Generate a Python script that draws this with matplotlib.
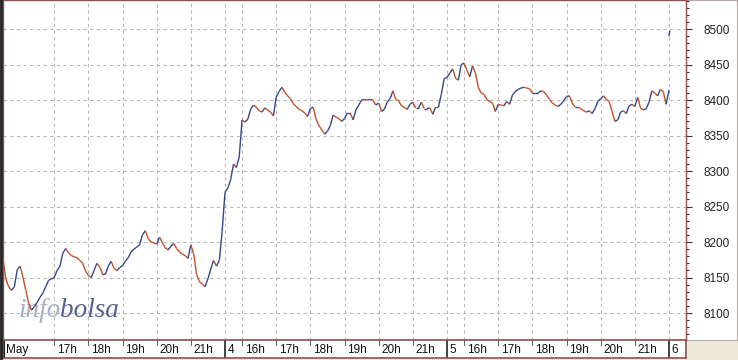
import numpy as np
import matplotlib.pyplot as plt
from matplotlib.collections import LineCollection
from matplotlib.patches import Rectangle
from matplotlib.lines import Line2D

# 5-minute closes, session 15:30-22:00 (78 bars per day)
day3 = [8176, 8148, 8137, 8132, 8137, 8161, 8166, 8151, 8132, 8114,
        8104, 8109, 8115, 8122, 8128, 8137, 8146, 8148, 8150, 8160,
        8166, 8184, 8191, 8185, 8181, 8179, 8178, 8174, 8170, 8159,
        8153, 8150, 8160, 8170, 8165, 8154, 8155, 8166, 8173, 8163,
        8160, 8164, 8167, 8173, 8178, 8186, 8190, 8193, 8196, 8210,
        8216, 8205, 8200, 8199, 8197, 8207, 8199, 8192, 8189, 8194,
        8198, 8191, 8186, 8183, 8181, 8177, 8196, 8183, 8155, 8144,
        8141, 8137, 8148, 8162, 8174, 8166, 8174, 8215]
day4 = [8270, 8276, 8288, 8310, 8305, 8320, 8372, 8369, 8373, 8387,
        8393, 8390, 8385, 8383, 8389, 8386, 8383, 8378, 8404, 8412,
        8418, 8411, 8406, 8402, 8395, 8391, 8387, 8385, 8382, 8377,
        8388, 8390, 8373, 8364, 8358, 8352, 8356, 8364, 8379, 8376,
        8374, 8370, 8374, 8382, 8382, 8372, 8386, 8393, 8400, 8401,
        8400, 8401, 8400, 8393, 8396, 8384, 8387, 8397, 8402, 8413,
        8401, 8399, 8392, 8390, 8387, 8394, 8397, 8389, 8389, 8397,
        8388, 8388, 8389, 8380, 8390, 8390, 8408, 8430]
day5 = [8432, 8438, 8444, 8431, 8428, 8450, 8452, 8442, 8433, 8448,
        8438, 8418, 8410, 8408, 8401, 8398, 8396, 8384, 8394, 8393,
        8392, 8398, 8394, 8407, 8412, 8415, 8417, 8418, 8417, 8416,
        8410, 8410, 8410, 8413, 8412, 8407, 8401, 8396, 8393, 8391,
        8394, 8399, 8405, 8406, 8396, 8390, 8390, 8388, 8385, 8383,
        8385, 8381, 8388, 8398, 8402, 8406, 8401, 8398, 8384, 8370,
        8372, 8383, 8385, 8381, 8392, 8394, 8391, 8404, 8389, 8386,
        8388, 8397, 8413, 8410, 8406, 8415, 8412, 8394, 8414]
day6 = [8491, 8497]  # opening print of day 6

day_labels = ['May', '4', '5', '6']
day_hours = [[17, 18, 19, 20, 21],
             [16, 17, 18, 19, 20, 21],
             [16, 17, 18, 19, 20, 21],
             []]
y_ticks = [8100, 8150, 8200, 8250, 8300, 8350, 8400, 8450, 8500]

BARS_PER_DAY = 78
BARS_PER_HOUR = 12
UP = '#37458c'
DOWN = '#c4502a'
FRAME = '#8a5252'

W, H = 738, 360
fig = plt.figure(figsize=(W / 100, H / 100), dpi=100, facecolor='#ECE9D8')

# white panel behind the price scale
fig.add_artist(Rectangle((686 / W, 20 / H), 51 / W, 1 - 20 / H, transform=fig.transFigure,
                         facecolor='white', edgecolor='#b8a8a8', lw=0.8, zorder=-1))

ax = fig.add_axes([3 / W, 20 / H, 683 / W, 1 - 20 / H])
xmax = 683 / 2.846
ax.set_xlim(0, xmax)
ax.set_ylim(8062, 8541)

# price line, segment coloured by direction
prices = np.array(day3 + day4 + day5, dtype=float)
x = np.arange(len(prices))
pts = np.column_stack([x, prices])
segs = np.stack([pts[:-1], pts[1:]], axis=1)
cols = [UP if d >= 0 else DOWN for d in np.diff(prices)]
ax.add_collection(LineCollection(segs, colors=cols, linewidths=1.0, zorder=3))
x6 = 3 * BARS_PER_DAY + np.arange(len(day6)) * 0.3
ax.plot(x6, day6, color=UP, lw=1.0, zorder=3)

# tick positions
tick_pos, tick_lab, is_day = [], [], []
for d, lab in enumerate(day_labels):
    start = d * BARS_PER_DAY
    tick_pos.append(start)
    tick_lab.append(lab)
    is_day.append(True)
    for h in day_hours[d]:
        tick_pos.append(start + (h - 15.5) * BARS_PER_HOUR)
        tick_lab.append(f'{h}h')
        is_day.append(False)

ax.set_xticks([p for p in tick_pos if p > 0])
ax.tick_params(axis='x', length=0, labelbottom=False)
ax.yaxis.tick_right()
ax.set_yticks(y_ticks)
ax.set_yticks(np.arange(8070, 8541, 10), minor=True)
ax.tick_params(axis='y', which='major', length=4.5, width=0.8, color='#333333',
               pad=8, labelsize=8.5, labelcolor='#222222')
ax.tick_params(axis='y', which='minor', length=1.8, width=0.8, color='#333333')
for lbl in ax.get_yticklabels():
    lbl.set_family('Liberation Sans')
ax.grid(True, which='major', ls=(0, (3, 3)), color='#b8b8b8', lw=0.8)
for s in ax.spines.values():
    s.set_color(FRAME)
    s.set_linewidth(1)

# watermark
t1 = ax.text(0.022, 0.05, 'info', transform=ax.transAxes, family='Liberation Serif',
             style='italic', fontsize=19.5, color='#a9b0c2', ha='left', va='bottom', zorder=2)
ax.annotate('bolsa', xy=(1, 0), xycoords=t1, family='Liberation Serif', style='italic',
            fontsize=19.5, color='#52618f', ha='left', va='bottom', zorder=2)

# time band under the chart
axb = fig.add_axes([3 / W, 2 / H, 683 / W, 18 / H])
axb.set_xlim(0, xmax)
axb.set_ylim(0, 1)
axb.set_xticks([])
axb.set_yticks([])
for s in axb.spines.values():
    s.set_color(FRAME)
    s.set_linewidth(1.2)
for p, lab, day in zip(tick_pos, tick_lab, is_day):
    if day:
        axb.plot([p, p], [0, 1], color='#222222', lw=1.2 if p > 0 else 3)
    else:
        axb.plot([p, p], [1, 0.72], color='#666666', lw=0.8)
    axb.text(p + 0.9, 0.42, lab, ha='left', va='center', fontsize=8.5,
             family='Liberation Sans', color='#111111')

# dark left edge
fig.add_artist(Line2D([1.2 / W, 1.2 / W], [2 / H, 1], transform=fig.transFigure,
                      color='#202020', lw=2))

fig.savefig('out.png', dpi=100, facecolor=fig.get_facecolor())
